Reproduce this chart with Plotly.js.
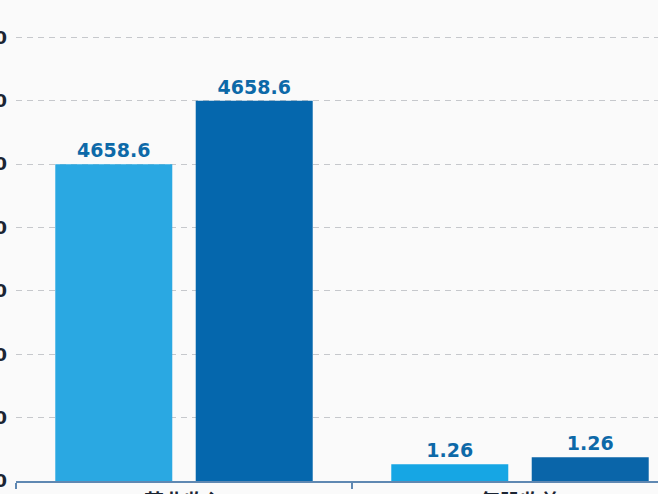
<!DOCTYPE html>
<html>
<head>
<meta charset="utf-8">
<script src="https://cdn.plot.ly/plotly-3.0.1.min.js"></script>
<style>
html,body{margin:0;padding:0;width:658px;height:494px;overflow:hidden;background:#fafafa;}
#chart{position:absolute;left:0;top:-60px;width:700px;height:620px;}
</style>
</head>
<body>
<div id="chart"></div>
<script>
// Data
var categories = ["营业收入", "每股收益"];
var seriesA = [50, 2.63];          // light bars (axis units)
var seriesB = [60, 3.74];          // dark bars (axis units)
var labelsA = ["4658.6", "1.26"];
var labelsB = ["4658.6", "1.26"];

var labelFont = {family: "DejaVu Sans", size: 19, color: "#0d69a8", weight: "bold"};

var traces = [
  {
    type: "bar", x: categories, y: seriesA, text: labelsA,
    texttemplate: "%{text}", textposition: "outside", cliponaxis: false,
    textfont: labelFont, hoverinfo: "none",
    marker: {color: ["#2aa8e2", "#16a6e4"], line: {width: 0}}
  },
  {
    type: "bar", x: categories, y: seriesB, text: labelsB,
    texttemplate: "%{text}", textposition: "outside", cliponaxis: false,
    textfont: labelFont, hoverinfo: "none",
    marker: {color: ["#0567ad", "#0a65a9"], line: {width: 0}}
  }
];

var layout = {
  width: 700, height: 620,
  margin: {l: 16, r: 12, t: 34, b: 79},
  paper_bgcolor: "#fafafa", plot_bgcolor: "#fafafa",
  showlegend: false,
  barmode: "group", bargap: 0.164, bargroupgap: 0.167,
  xaxis: {
    type: "category",
    showline: true, linecolor: "#5f88b2", linewidth: 2,
    ticks: "outside", tickson: "boundaries", ticklen: 6, tickwidth: 1.5, tickcolor: "#5f88b2",
    showgrid: false, zeroline: false,
    tickfont: {family: "Noto Sans CJK SC", size: 20, color: "#1b2533", weight: "bold"},
    ticklabelstandoff: 2
  },
  yaxis: {
    range: [0, 80], tickmode: "linear", tick0: 0, dtick: 10,
    showline: false, zeroline: false, ticks: "",
    showgrid: true, gridcolor: "#c6c8cc", gridwidth: 1, griddash: "6px,5px",
    tickfont: {family: "DejaVu Sans", size: 18, color: "#1b2533", weight: "bold"},
    ticklabelstandoff: 8
  }
};

Plotly.newPlot("chart", traces, layout, {displayModeBar: false, staticPlot: true});
</script>
</body>
</html>
